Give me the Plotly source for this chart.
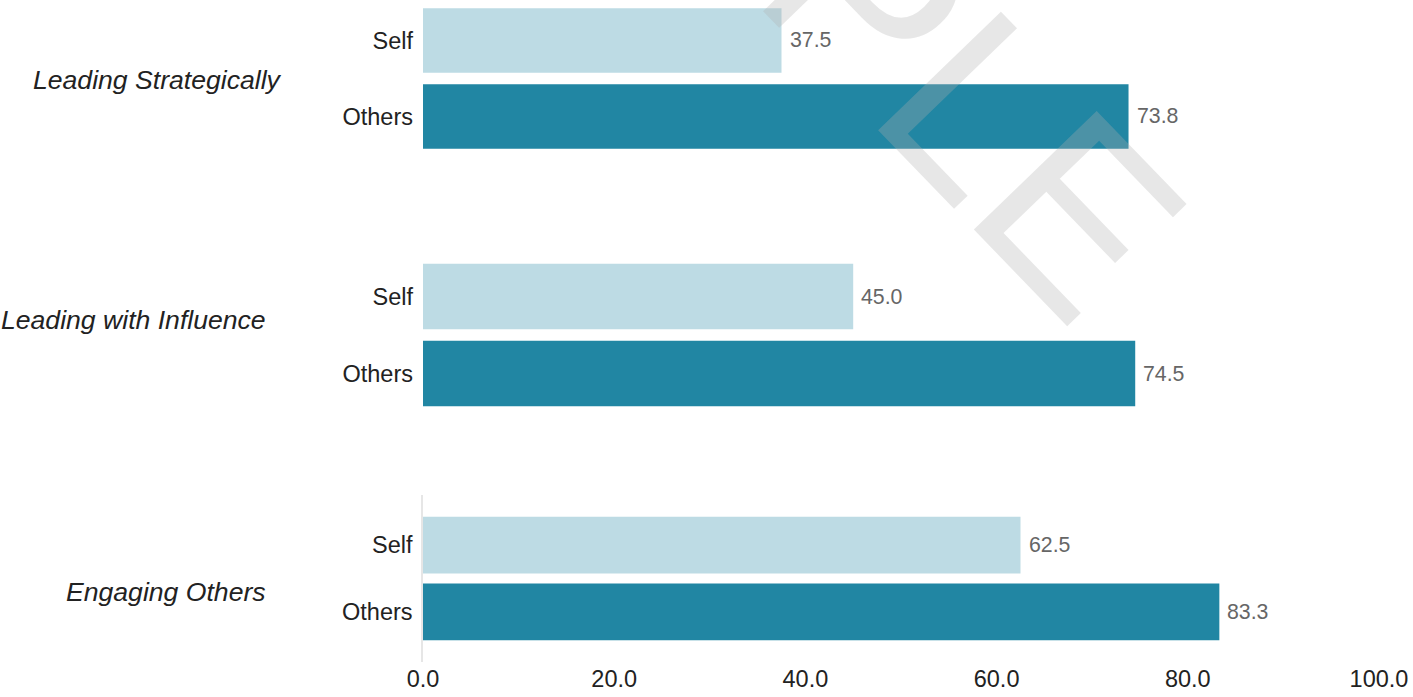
import plotly.graph_objects as go

groups = ["Leading Strategically", "Leading with Influence", "Engaging Others"]
raters = ["Self", "Others"]
self_scores = [37.5, 45.0, 62.5]
others_scores = [73.8, 74.5, 83.3]
x_ticks = [0, 20, 40, 60, 80, 100]
watermark = "SAMPLE"

W, H = 1413, 697
SELF_COLOR = "#bddbe4"
OTHERS_COLOR = "#2186a3"
FONT = "Liberation Sans, Arial, sans-serif"

def px(p):
    return p / W

def py(p):
    return 1 - p / H

# subplot domains in window pixel rows (top, bottom)
domains = [(2.5, 154.5), (258, 412), (495, 662)]
yranges = [[-0.5, 1.5], [-0.5, 1.5], [-0.75, 1.75]]
label_pos = [(284, 80), (268, 320), (268, 592)]
standoffs = [9, 9, 4]

fig = go.Figure()
annotations = []
for i, g in enumerate(groups):
    sfx = "" if i == 0 else str(i + 1)
    vals = [self_scores[i], others_scores[i]]
    fig.add_trace(go.Bar(
        y=raters, x=vals, orientation="h",
        marker=dict(color=[SELF_COLOR, OTHERS_COLOR], line=dict(width=0)),
        xaxis="x" + sfx, yaxis="y" + sfx, showlegend=False, hoverinfo="x+y",
    ))
    for r, v in zip(raters, vals):
        annotations.append(dict(
            x=v, y=r, xref="x" + sfx, yref="y" + sfx, text=f"{v:.1f}",
            showarrow=False, xanchor="left", yanchor="middle", xshift=6,
            font=dict(family=FONT, size=21.3, color="#666666"),
        ))
    lx, ly = label_pos[i]
    annotations.append(dict(
        x=px(lx), y=py(ly), xref="paper", yref="paper", text=f"<i>{g}</i>",
        showarrow=False, xanchor="right", yanchor="middle",
        font=dict(family=FONT, size=26.6, color="#222222"),
    ))

annotations.append(dict(
    x=px(787), y=py(-88), xref="paper", yref="paper", text=watermark,
    showarrow=False, xanchor="center", yanchor="middle", textangle=46,
    font=dict(family=FONT, size=248, color="rgba(175,175,175,0.3)"),
))

layout = dict(
    width=W, height=H, margin=dict(l=0, r=0, t=0, b=0, autoexpand=False),
    paper_bgcolor="white", plot_bgcolor="white",
    bargap=0.15, annotations=annotations,
    font=dict(family=FONT, size=23.5, color="#222222"),
)
xdom = [px(423), px(1379)]
for i in range(3):
    sfx = "" if i == 0 else str(i + 1)
    top, bot = domains[i]
    last = i == 2
    layout["xaxis" + sfx] = dict(
        domain=xdom, range=[0, 100], anchor="y" + sfx, automargin=False,
        showgrid=False, zeroline=False, showline=False,
        tickvals=x_ticks, ticktext=[f"{t:.1f}" for t in x_ticks],
        showticklabels=last, ticks="",
        tickfont=dict(family=FONT, size=23.5, color="#222222"),
        matches=None if i == 0 else "x",
    )
    layout["yaxis" + sfx] = dict(
        domain=[py(bot), min(1, py(top))], anchor="x" + sfx, automargin=False,
        type="category", categoryorder="array", categoryarray=["Others", "Self"],
        range=yranges[i], showgrid=False, zeroline=False,
        showline=last, linecolor="#e6e6e6", linewidth=1.5,
        ticks="", ticklabelstandoff=standoffs[i],
        tickfont=dict(family=FONT, size=23.5, color="#222222"),
    )
fig.update_layout(**layout)
fig.write_html(
    "out.html",
    config={"displayModeBar": False},
    post_script="document.body.style.margin='0px';document.body.style.overflow='hidden';",
)
